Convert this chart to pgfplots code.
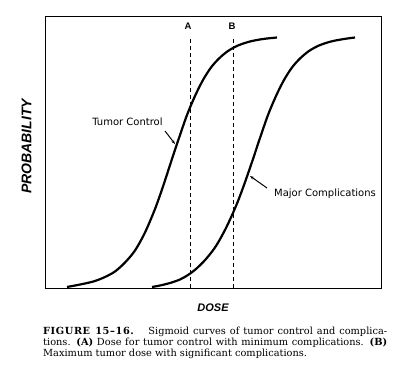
\documentclass[border=0pt]{standalone}
\usepackage{pgfplots}
\pgfplotsset{compat=1.18}
\usepackage{fontspec}
\setmainfont{DejaVu Serif}
\newfontfamily\sansf{Liberation Sans}
\newfontfamily\dvsans{DejaVu Sans}
\usetikzlibrary{arrows.meta}
\begin{document}
\begin{tikzpicture}
\path[use as bounding box] (0pt,0pt) rectangle (400pt,372pt);
\begin{axis}[at={(45pt,84pt)}, anchor=south west, scale only axis,
  width=336pt, height=272pt, xmin=45, xmax=381, ymin=0, ymax=272,
  xtick=\empty, ytick=\empty, axis line style={line width=0.9pt}, clip=false]
% Tumor control
\addplot[line width=2.2pt, smooth] coordinates {
(67,1)(75,2.5)(85,4.5)(95,7)(105,11)(115,16.5)(125,25.5)(135,37.5)(145,55.5)(155,79)(163,101.5)(171,126)(179,150)(187,173)(195,192)(203,208)(211,220.5)(219,229.5)(228,237)(238,242.5)(250,246.5)(263,249)(277,250.5)};
% Major complications
\addplot[line width=2.2pt, smooth] coordinates {
(152,1)(160,2.5)(170,5)(180,8.5)(188,13)(196,19)(206,29)(216,42)(226,60)(236,82)(244,103)(252,126)(260,150)(268,173)(276,192)(284,208)(292,220.5)(300,229.5)(309,237)(319,242.5)(331,246.5)(344,249)(355,250.5)};
% A and B
\addplot[line width=0.8pt, dash pattern=on 4pt off 3pt] coordinates {(190,0)(190,250)};
\addplot[line width=0.8pt, dash pattern=on 4pt off 3pt] coordinates {(233,0)(233,250)};
\node[font=\sansf\bfseries\fontsize{9.5}{10}\selectfont] at (axis cs:188,262) {A};
\node[font=\sansf\bfseries\fontsize{9.5}{10}\selectfont] at (axis cs:232,262) {B};
\node[font=\dvsans\fontsize{10}{11}\selectfont] at (axis cs:127.5,166) {Tumor Control};
\draw[line width=1pt, -{Stealth[length=4pt,width=3pt]}] (axis cs:165,157) -- (axis cs:175,144);
\node[font=\dvsans\fontsize{10}{11}\selectfont, anchor=west, inner sep=0pt] at (axis cs:274,94) {Major Complications};
\draw[line width=1pt, -{Stealth[length=4pt,width=3pt]}] (axis cs:267,100) -- (axis cs:250,112);
\end{axis}
\node[font=\sansf\bfseries\itshape\fontsize{11}{12}\selectfont] at (213pt,64pt) {DOSE};
\node[font=\sansf\bfseries\itshape\fontsize{14}{15}\selectfont, rotate=90] at (26.5pt,225.5pt) {PROBABILITY};
\node[anchor=base west, inner sep=0pt, text width=344pt, align=justify] at (43pt,37pt)
{\fontsize{9.8}{10.8}\selectfont\sloppy {\bfseries\addfontfeatures{LetterSpace=6}FIGURE 15–16.}\hspace{0.8em} Sigmoid curves of tumor control and complica-\linebreak tions. \textbf{(A)} Dose for tumor control with minimum complications. \textbf{(B)}\linebreak Maximum tumor dose with significant complications.\par};
\end{tikzpicture}
\end{document}
